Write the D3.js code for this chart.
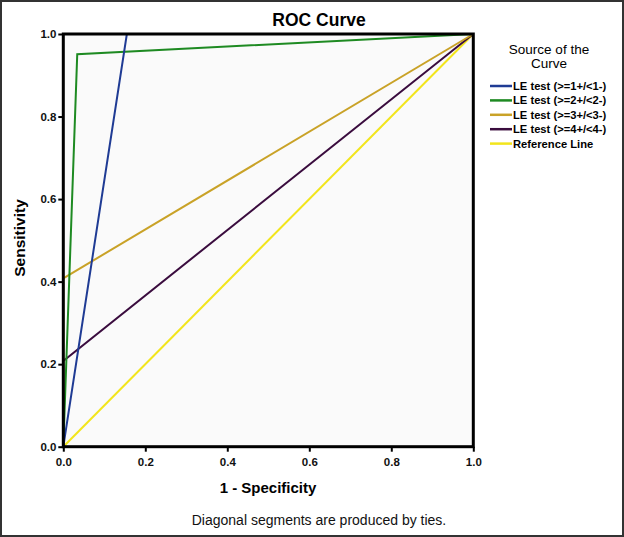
<!DOCTYPE html>
<html>
<head>
<meta charset="utf-8">
<script src="https://cdn.jsdelivr.net/npm/d3@7"></script>
<style>
  body { margin: 0; background: #fff; }
  svg { display: block; font-family: Arial, "Liberation Sans", sans-serif; }
</style>
</head>
<body>
<div id="chart"></div>
<script>
// ROC curve points (1 - specificity, sensitivity)
const seriesNames = ['LE test (>=1+/<1-)', 'LE test (>=2+/<2-)', 'LE test (>=3+/<3-)', 'LE test (>=4+/<4-)', 'Reference Line'];
const seriesColors = ['#1f3b94', '#1e8a22', '#c9a227', '#3a0c3e', '#f2e51c'];
const fprValues = [
    [0, 0.155, 1],
    [0, 0.034, 1],
    [0, 0, 1],
    [0, 0, 1],
    [0, 1],
];
const tprValues = [
    [0, 1, 1],
    [0, 0.951, 1],
    [0, 0.408, 1],
    [0, 0.208, 1],
    [0, 1],
];
const tickValues = [0, 0.2, 0.4, 0.6, 0.8, 1.0];

const width = 624, height = 537;
const plot = { left: 63.3, right: 473.3, top: 34, bottom: 446.7 };

const svg = d3.select('#chart').append('svg')
    .attr('width', width)
    .attr('height', height);

// outer frame
svg.append('rect')
    .attr('x', 1).attr('y', 1)
    .attr('width', width - 2).attr('height', height - 2)
    .attr('fill', '#fff').attr('stroke', '#333').attr('stroke-width', 2);

const x = d3.scaleLinear().domain([0, 1]).range([plot.left, plot.right]);
const y = d3.scaleLinear().domain([0, 1]).range([plot.bottom, plot.top]);

svg.append('rect')
    .attr('x', plot.left).attr('y', plot.top)
    .attr('width', plot.right - plot.left).attr('height', plot.bottom - plot.top)
    .attr('fill', '#fafafa');

// title
svg.append('text')
    .attr('x', 319).attr('y', 26)
    .attr('text-anchor', 'middle')
    .attr('font-size', 17.5).attr('font-weight', 'bold')
    .text('ROC Curve');

const line = d3.line().x(d => x(d[0])).y(d => y(d[1]));

// draw reference line first, then curves in reverse so blue is on top
const order = [4, 3, 2, 1, 0];
order.forEach(i => {
    const pts = fprValues[i].map((v, j) => [v, tprValues[i][j]]);
    svg.append('path')
        .datum(pts)
        .attr('d', line)
        .attr('fill', 'none')
        .attr('stroke', seriesColors[i])
        .attr('stroke-width', 2);
});

// axes
const xAxis = svg.append('g')
    .attr('transform', `translate(0,${plot.bottom})`)
    .call(d3.axisBottom(x).tickValues(tickValues).tickFormat(d3.format('.1f')).tickSize(5).tickSizeOuter(0));
const yAxis = svg.append('g')
    .attr('transform', `translate(${plot.left},0)`)
    .call(d3.axisLeft(y).tickValues(tickValues).tickFormat(d3.format('.1f')).tickSize(5).tickSizeOuter(0));

[xAxis, yAxis].forEach(ax => {
    ax.select('.domain').remove();
    ax.selectAll('line').attr('stroke', '#000').attr('stroke-width', 2);
    ax.selectAll('text')
        .attr('font-size', 11.5).attr('font-weight', 'bold')
        .attr('font-family', 'Arial, "Liberation Sans", sans-serif')
        .attr('fill', '#111');
});
xAxis.selectAll('text').attr('dy', '0.95em');
yAxis.selectAll('text').attr('dx', '0.1em');

// plot frame
svg.append('rect')
    .attr('x', plot.left).attr('y', plot.top)
    .attr('width', plot.right - plot.left).attr('height', plot.bottom - plot.top)
    .attr('fill', 'none').attr('stroke', '#000').attr('stroke-width', 3);

// axis titles
svg.append('text')
    .attr('x', 268).attr('y', 493)
    .attr('text-anchor', 'middle')
    .attr('font-size', 15).attr('font-weight', 'bold')
    .text('1 - Specificity');
svg.append('text')
    .attr('transform', 'translate(25,238) rotate(-90)')
    .attr('text-anchor', 'middle')
    .attr('font-size', 15.5).attr('font-weight', 'bold')
    .text('Sensitivity');

svg.append('text')
    .attr('x', 319).attr('y', 525)
    .attr('text-anchor', 'middle')
    .attr('font-size', 14)
    .attr('fill', '#111')
    .text('Diagonal segments are produced by ties.');

// legend
const legend = svg.append('g');
legend.append('text')
    .attr('x', 549).attr('y', 54)
    .attr('text-anchor', 'middle')
    .attr('font-size', 13.5)
    .selectAll('tspan')
    .data(['Source of the', 'Curve'])
    .enter().append('tspan')
        .attr('x', 549)
        .attr('dy', (d, i) => i ? 14 : 0)
        .text(d => d);

const items = legend.selectAll('.item')
    .data(seriesNames)
    .enter().append('g')
        .attr('class', 'item')
        .attr('transform', (d, i) => `translate(0,${86 + i * 14.4})`);
items.append('line')
    .attr('x1', 490).attr('x2', 512)
    .attr('stroke', (d, i) => seriesColors[i])
    .attr('stroke-width', 2.5);
items.append('text')
    .attr('x', 513).attr('dy', '0.35em')
    .attr('font-size', 11.2).attr('font-weight', 'bold')
    .text(d => d);
</script>
</body>
</html>
